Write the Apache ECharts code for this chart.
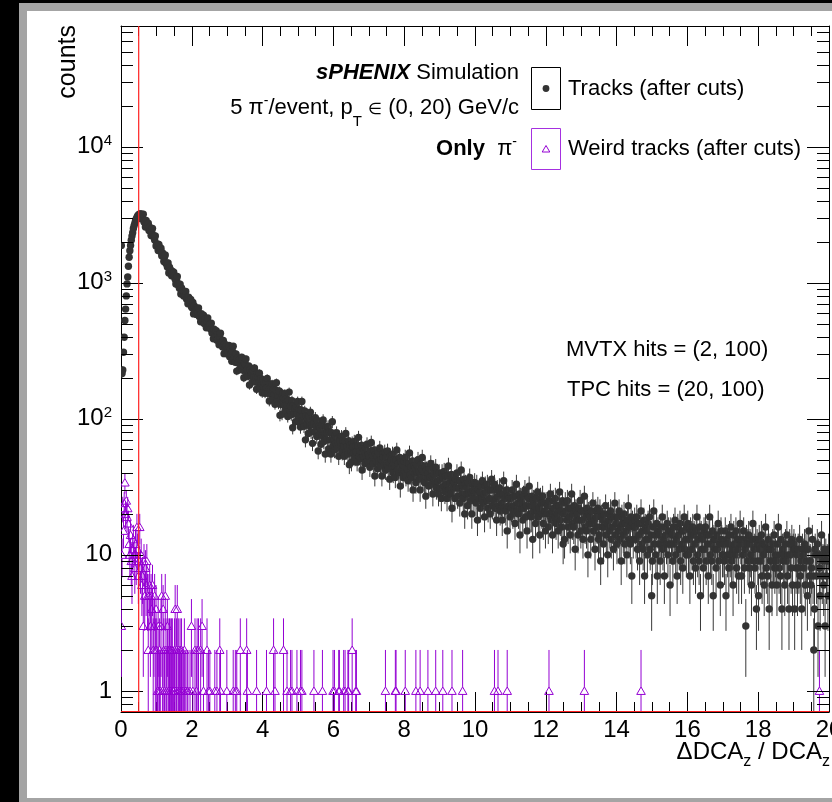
<!DOCTYPE html>
<html>
<head>
<meta charset="utf-8">
<title>DCA_z resolution, tracks vs weird tracks</title>
<script src="https://cdn.jsdelivr.net/npm/echarts@6/dist/echarts.min.js"></script>
<style>
  html, body { margin: 0; padding: 0; background: #fff; }
  #chart { width: 832px; height: 802px; }
</style>
</head>
<body>
<div id="chart"></div>
<script>
const FONT = '"Liberation Sans", Arial, Helvetica, sans-serif';

// histogram binning: bin i has center (i + 0.5) * binWidth
const binWidth = 0.02;
const xRange = [0, 20];
const yRange = [0.7, 77000];
const cutValue = 0.5;

// "Tracks (after cuts)" counts per bin
const tracks0to1 = [
  1880, 215, 228, 308, 397, 527, 640, 800, 980, 1100,
  1320, 1540, 1720, 1880, 2050, 2200, 2330, 2500, 2620, 2730,
  2850, 2940, 3020, 3090, 3140, 3180, 3200, 3197, 2948, 3182,
  2980, 3182, 2799, 2864, 2567, 2863, 2744, 2587, 2735, 2416,
  2554, 2418, 2225, 2412, 2508, 2184, 2212, 2064, 2205, 1864
];
const tracks1to3 = [
  1901, 1930, 1725, 1912, 1816, 1700, 1791, 1576, 1658, 1562, 1431, 1542, 1600, 1385, 1399, 1303, 1394, 1177, 1302, 1226, 1235, 1125, 1208, 1124, 1193,
  1119, 1061, 979, 1064, 1110, 965, 980, 912, 977, 825, 916, 865, 875, 799, 863, 807, 861, 760, 779, 700, 783, 751, 709, 753, 667,
  654, 717, 590, 675, 633, 646, 585, 646, 600, 652, 564, 583, 517, 593, 567, 533, 577, 501, 540, 510, 466, 519, 550, 469, 483,
  496, 457, 504, 427, 445, 387, 456, 434, 404, 443, 378, 414, 388, 350, 399, 426, 355, 368, 337, 377, 301, 354, 329, 338, 301
];
const tracks3to6 = [
  332, 308, 346, 286, 321, 299, 265, 312, 341, 274, 286, 260, 300, 224, 280, 257, 268, 230, 274, 246, 283, 228, 244, 200, 256,
  250, 275, 218, 230, 205, 244, 177, 228, 209, 218, 186, 226, 202, 236, 187, 202, 165, 216, 203, 183, 216, 170, 198, 182, 155,
  192, 173, 183, 154, 189, 168, 198, 154, 169, 135, 180, 169, 152, 180, 140, 165, 151, 128, 163, 184, 138, 148, 129, 160, 106,
  128, 141, 108, 153, 142, 125, 153, 115, 140, 127, 104, 137, 157, 114, 124, 107, 136, 86, 125, 111, 119, 95, 124, 108, 134,
  96, 117, 106, 87, 116, 134, 96, 105, 88, 114, 70, 105, 92, 100, 78, 105, 89, 112, 80, 91, 66, 99, 93, 80, 102,
  88, 74, 97, 58, 88, 77, 85, 65, 90, 75, 98, 68, 78, 55, 87, 79, 70, 88, 60, 80, 70, 55, 79, 95, 63
];
const tracks6to10 = [
  71, 59, 75, 66, 79, 61, 67, 53, 73, 69, 62, 74, 57, 69, 63, 53, 68, 78, 58, 63, 55, 69, 46, 64, 58,
  48, 66, 62, 56, 68, 52, 63, 57, 48, 63, 73, 53, 58, 51, 64, 42, 60, 53, 58, 47, 61, 53, 65, 49, 55,
  53, 44, 58, 67, 49, 54, 47, 59, 38, 55, 49, 53, 43, 56, 49, 61, 45, 50, 38, 55, 52, 46, 57, 42, 52,
  46, 58, 43, 48, 36, 53, 50, 44, 55, 40, 50, 45, 37, 50, 59, 42, 47, 40, 52, 32, 48, 42, 46, 37, 49,
  41, 52, 38, 47, 43, 35, 47, 56, 39, 44, 37, 49, 30, 45, 40, 43, 34, 46, 40, 50, 36, 41, 30, 46, 43,
  52, 37, 41, 34, 45, 27, 42, 37, 40, 32, 43, 37, 47, 33, 38, 28, 43, 39, 34, 44, 31, 40, 35, 28, 40,
  31, 36, 26, 40, 37, 32, 41, 29, 38, 33, 26, 38, 45, 30, 34, 28, 39, 22, 35, 31, 34, 26, 36, 31, 40,
  27, 35, 31, 24, 35, 42, 28, 32, 26, 36, 20, 33, 28, 31, 23, 34, 28, 37, 25, 29, 20, 33, 30, 26, 34
];
const tracks10to15 = [
  29, 24, 33, 18, 30, 26, 29, 22, 32, 26, 35, 24, 28, 19, 32, 29, 25, 33, 22, 30, 26, 20, 30, 36, 23,
  30, 25, 33, 22, 26, 18, 30, 27, 23, 31, 21, 28, 24, 18, 28, 35, 22, 26, 21, 30, 15, 27, 23, 26, 19,
  26, 22, 30, 20, 27, 23, 17, 27, 33, 21, 24, 20, 28, 14, 26, 22, 24, 18, 27, 22, 30, 19, 23, 15, 27,
  26, 32, 20, 23, 19, 27, 13, 25, 21, 23, 17, 26, 21, 29, 19, 22, 14, 26, 24, 20, 27, 17, 24, 21, 15,
  24, 20, 23, 16, 25, 20, 28, 18, 21, 14, 25, 22, 19, 26, 17, 23, 20, 15, 23, 29, 18, 21, 16, 25, 12,
  20, 13, 24, 21, 18, 25, 16, 22, 19, 14, 22, 28, 17, 20, 16, 23, 11, 21, 18, 20, 14, 22, 18, 25, 15,
  21, 18, 13, 21, 27, 16, 19, 15, 22, 10, 20, 17, 19, 13, 21, 17, 24, 15, 18, 11, 21, 19, 16, 22, 13,
  14, 21, 9, 19, 16, 18, 12, 20, 16, 23, 14, 17, 10, 20, 18, 15, 21, 13, 19, 16, 11, 19, 24, 14, 17,
  12, 19, 15, 21, 13, 16, 9, 19, 17, 14, 20, 12, 17, 15, 10, 18, 23, 13, 16, 12, 19, 7, 17, 13, 16,
  18, 16, 13, 19, 11, 17, 14, 9, 17, 21, 12, 15, 11, 18, 7, 16, 13, 15, 10, 17, 13, 19, 11, 14, 5
];
const tracks15to20 = [
  9, 16, 21, 12, 14, 10, 17, 7, 15, 12, 14, 9, 16, 12, 19, 11, 13, 7, 16, 14, 12, 17, 10, 15, 12,
  6, 15, 12, 14, 9, 16, 12, 18, 10, 13, 7, 16, 14, 11, 17, 9, 15, 12, 8, 15, 19, 11, 13, 10, 16,
  17, 10, 13, 7, 15, 14, 11, 16, 9, 14, 12, 8, 15, 19, 10, 13, 9, 16, 5, 14, 11, 13, 8, 15, 11,
  16, 9, 14, 12, 7, 14, 19, 10, 12, 9, 15, 5, 13, 11, 13, 8, 14, 11, 17, 9, 12, 6, 15, 13, 10,
  10, 12, 9, 15, 5, 13, 10, 12, 8, 14, 10, 16, 9, 11, 6, 14, 12, 10, 15, 8, 13, 11, 7, 13, 17,
  12, 7, 13, 10, 15, 8, 11, 3, 13, 12, 9, 14, 8, 12, 10, 6, 13, 17, 9, 11, 8, 13, 4, 12, 9,
  5, 13, 11, 9, 14, 7, 12, 10, 6, 12, 16, 8, 11, 7, 13, 4, 11, 9, 11, 6, 12, 9, 14, 8, 10,
  9, 6, 12, 16, 8, 10, 7, 13, 4, 11, 9, 10, 6, 12, 9, 14, 7, 10, 4, 12, 10, 8, 13, 6, 11,
  12, 4, 11, 8, 10, 6, 11, 8, 13, 7, 9, 4, 11, 10, 8, 12, 6, 11, 9, 5, 11, 15, 7, 9, 6,
  8, 13, 7, 2, 4, 11, 10, 7, 12, 3, 10, 8, 5, 10, 14, 7, 9, 6, 11, 3, 10, 7, 9, 5, 11
];

// "Weird tracks (after cuts)": every bin below 1, then only the filled bins above 1
const weirdBelow1 = [
  3, 10, 22, 15, 24, 34, 20, 25, 19, 22,
  17, 12, 10, 14, 9, 7, 11, 13, 10, 8,
  12, 9, 16, 11, 7, 9, 16, 8, 10, 6,
  7, 3, 9, 5, 8, 6, 9, 5, 2, 5,
  6, 3, 5, 4, 6, 2, 3, 5, 2, 4
];
const weirdAbove1X = [
  1.01, 1.03, 1.05, 1.07, 1.09, 1.11, 1.13, 1.15, 1.17, 1.19, 1.21, 1.23, 1.25, 1.27, 1.29, 1.31, 1.33, 1.35, 1.37,
  1.39, 1.41, 1.43, 1.45, 1.47, 1.49, 1.51, 1.53, 1.55, 1.57, 1.59, 1.61, 1.63, 1.65, 1.67, 1.69, 1.71, 1.73,
  1.77, 1.79, 1.83, 1.87, 1.89, 1.95, 1.99,
  2.03, 2.09, 2.13, 2.15, 2.19, 2.25, 2.29, 2.33, 2.43, 2.47, 2.51, 2.65, 2.71, 2.79, 2.81, 2.99,
  3.17, 3.23, 3.27, 3.37, 3.55, 3.57, 3.83,
  4.11, 4.31, 4.35, 4.59, 4.69, 4.79, 4.83, 4.97,
  5.07, 5.11, 5.45, 5.69, 5.99,
  6.03, 6.15, 6.17, 6.29, 6.33, 6.41, 6.43, 6.53, 6.63, 6.65,
  7.47, 7.75, 7.77,
  8.03, 8.33, 8.45, 8.67, 8.89, 9.09, 9.35, 9.65, 10.55, 10.65, 10.91, 12.09, 13.09, 14.69, 19.73
];
const weirdAbove1Counts = [
  2, 1, 3, 1, 2, 1, 3, 5, 1, 4, 2, 1, 5, 2, 1, 3, 2, 1, 2,
  2, 1, 2, 2, 1, 1, 2, 4, 1, 2, 4, 1, 2, 1, 2, 1, 2, 1,
  1, 2, 1, 1, 1, 1, 3,
  1, 2, 1, 2, 2, 2, 3, 1, 2, 1, 1, 1, 1, 2, 1, 1,
  1, 1, 1, 2, 2, 1, 1,
  1, 2, 1, 2, 1, 1, 1, 1,
  1, 1, 1, 1, 1,
  1, 1, 1, 1, 1, 1, 1, 2, 1, 1,
  1, 1, 1,
  1, 1, 1, 1, 1, 1, 1, 1, 1, 1, 1, 1, 1, 1, 1
];

// log-axis tick positions
const yMajorTicks = [1, 10, 100, 1000, 10000];
const yMinorTicks = [
  0.8, 0.9,
  2, 3, 4, 5, 6, 7, 8, 9,
  20, 30, 40, 50, 60, 70, 80, 90,
  200, 300, 400, 500, 600, 700, 800, 900,
  2000, 3000, 4000, 5000, 6000, 7000, 8000, 9000,
  20000, 30000, 40000, 50000, 60000, 70000
];

const TRACK_COLOR = '#333333';
const WEIRD_COLOR = '#9400d3';
const CUT_COLOR = '#ff2020';

const tracksCounts = [].concat(tracks0to1, tracks1to3, tracks3to6, tracks6to10, tracks10to15, tracks15to20);
const tracksData = tracksCounts.map((n, i) => [(i + 0.5) * binWidth, n]);
const weirdData = weirdBelow1.map((n, i) => [(i + 0.5) * binWidth, n])
  .concat(weirdAbove1X.map((x, i) => [x, weirdAbove1Counts[i]]));
const yTickData = yMajorTicks.map(v => [xRange[0], v, 22])
  .concat(yMinorTicks.map(v => [xRange[0], v, 12]));

// poisson error bar ends, lower end clipped to the axis
function errEnds(api, x, n) {
  const e = Math.sqrt(n);
  return [api.coord([x, n + e])[1], api.coord([x, Math.max(n - e, yRange[0])])[1]];
}

function renderTrack(params, api) {
  const x = api.value(0), n = api.value(1);
  const c = api.coord([x, n]);
  const [hi, lo] = errEnds(api, x, n);
  return {
    type: 'group',
    children: [
      { type: 'line', shape: { x1: c[0], y1: hi, x2: c[0], y2: lo }, style: { stroke: '#383838', lineWidth: 1 } },
      { type: 'circle', shape: { cx: c[0], cy: c[1], r: 3.7 }, style: { fill: TRACK_COLOR } }
    ]
  };
}

function renderWeird(params, api) {
  const x = api.value(0), n = api.value(1);
  const c = api.coord([x, n]);
  const [hi, lo] = errEnds(api, x, n);
  const children = [
    { type: 'line', shape: { x1: c[0], y1: hi, x2: c[0], y2: c[1] - 4 }, style: { stroke: WEIRD_COLOR, lineWidth: 1 } },
    { type: 'polygon', shape: { points: [[c[0], c[1] - 4], [c[0] + 4.3, c[1] + 3.5], [c[0] - 4.3, c[1] + 3.5]] },
      style: { fill: 'none', stroke: WEIRD_COLOR, lineWidth: 1 } }
  ];
  if (lo > c[1] + 3.5) {
    children.push({ type: 'line', shape: { x1: c[0], y1: c[1] + 3.5, x2: c[0], y2: lo }, style: { stroke: WEIRD_COLOR, lineWidth: 1 } });
  }
  return { type: 'group', children: children };
}

function renderYTicks(params, api) {
  const v = api.value(1), len = api.value(2);
  const l = api.coord([xRange[0], v]);
  const r = api.coord([xRange[1], v]);
  const y = Math.round(l[1]) + 0.5;
  return {
    type: 'group',
    children: [
      { type: 'line', shape: { x1: l[0], y1: y, x2: l[0] + len, y2: y }, style: { stroke: '#000', lineWidth: 1 } },
      { type: 'line', shape: { x1: r[0] - len, y1: y, x2: r[0], y2: y }, style: { stroke: '#000', lineWidth: 1 } }
    ]
  };
}

// red cut line at x = cutValue, plus the red line along the bottom of the frame
function renderCut(params, api) {
  const top = api.coord([api.value(0), yRange[1]]);
  const bot = api.coord([api.value(0), yRange[0]]);
  const left = api.coord([xRange[0], yRange[0]]);
  const right = api.coord([xRange[1], yRange[0]]);
  return {
    type: 'group',
    children: [
      { type: 'line', shape: { x1: top[0], y1: top[1], x2: bot[0], y2: bot[1] }, style: { stroke: CUT_COLOR, lineWidth: 1.2 } },
      { type: 'line', shape: { x1: left[0], y1: left[1] - 0.5, x2: right[0], y2: right[1] - 0.5 }, style: { stroke: CUT_COLOR, lineWidth: 1.2 } }
    ]
  };
}

function yLabel(v) {
  const e = Math.round(Math.log10(v));
  if (e === 0) return '1';
  if (e === 1) return '10';
  return '10{sup|' + e + '}';
}

const xAxisBase = {
  type: 'value', min: xRange[0], max: xRange[1], interval: 2,
  axisLine: { onZero: false, lineStyle: { color: '#000', width: 1 } },
  axisTick: { inside: true, length: 20, lineStyle: { color: '#000', width: 1 } },
  minorTick: { show: true, splitNumber: 4, length: 10, lineStyle: { color: '#000', width: 1 } },
  splitLine: { show: false },
  minorSplitLine: { show: false }
};

const yAxisBase = {
  type: 'log', logBase: 10, min: yRange[0], max: yRange[1],
  axisLine: { show: true, onZero: false, lineStyle: { color: '#000', width: 1 } },
  axisTick: { show: false },
  splitLine: { show: false }
};

const txt = (x, y, text, extra) => ({
  type: 'text', x: x, y: y, silent: true,
  style: Object.assign({
    text: text, fill: '#000', fontFamily: FONT, fontSize: 22,
    align: 'left', verticalAlign: 'middle', textAlign: 'left', textVerticalAlign: 'middle'
  }, extra || {})
});

const chart = echarts.init(document.getElementById('chart'), null, { renderer: 'canvas' });

chart.setOption({
  animation: false,
  backgroundColor: '#ffffff',
  // keep the frame where it is, the "20" label is allowed to run off the right edge
  grid: { left: 121, right: 3, top: 26, bottom: 90, containLabel: false, outerBoundsMode: 'none' },
  xAxis: [
    Object.assign({}, xAxisBase, {
      position: 'bottom',
      axisLabel: {
        fontSize: 24, fontFamily: FONT, color: '#000', margin: 6,
        alignMinLabel: 'center', alignMaxLabel: 'center', hideOverlap: false
      }
    }),
    Object.assign({}, xAxisBase, { position: 'top', axisLabel: { show: false } })
  ],
  yAxis: [
    Object.assign({}, yAxisBase, {
      position: 'left',
      axisLabel: {
        margin: 9, fontSize: 24, fontFamily: FONT, color: '#000',
        showMinLabel: false, showMaxLabel: false,
        formatter: yLabel,
        rich: { sup: { fontSize: 15, fontFamily: FONT, color: '#000', padding: [0, 0, 12, 0] } }
      }
    }),
    Object.assign({}, yAxisBase, { position: 'right', axisLabel: { show: false } })
  ],
  series: [
    { name: 'Tracks (after cuts)', type: 'custom', renderItem: renderTrack, data: tracksData, clip: true, z: 2, silent: true },
    { name: 'Weird tracks (after cuts)', type: 'custom', renderItem: renderWeird, data: weirdData, clip: true, z: 3, silent: true },
    { name: 'y ticks', type: 'custom', renderItem: renderYTicks, data: yTickData, z: 5, silent: true },
    { name: 'cut', type: 'custom', renderItem: renderCut, data: [[cutValue, yRange[0]]], z: 6, silent: true }
  ],
  graphic: [
    // window frame
    { type: 'rect', silent: true, shape: { x: 0, y: 0, width: 832, height: 3 }, style: { fill: '#000' } },
    { type: 'rect', silent: true, shape: { x: 0, y: 0, width: 19, height: 802 }, style: { fill: '#000' } },
    { type: 'rect', silent: true, shape: { x: 19, y: 3, width: 813, height: 8 }, style: { fill: '#a4a4a4' } },
    { type: 'rect', silent: true, shape: { x: 19, y: 3, width: 8, height: 799 }, style: { fill: '#a4a4a4' } },
    { type: 'rect', silent: true, shape: { x: 19, y: 798, width: 813, height: 4 }, style: { fill: '#a4a4a4' } },

    // axis titles
    {
      type: 'text', x: 68, y: 25, rotation: Math.PI / 2, silent: true,
      style: { text: 'counts', fill: '#000', fontFamily: FONT, fontSize: 25, align: 'right', verticalAlign: 'middle', textAlign: 'right', textVerticalAlign: 'middle' }
    },
    txt(830, 752, 'ΔDCA{sub|z} / DCA{sub|z}', {
      fontSize: 24, align: 'right', textAlign: 'right',
      rich: { sub: { fontSize: 16, fontFamily: FONT, fill: '#000', padding: [20, 0, 0, 0] } }
    }),

    // labels
    txt(519, 73, '{bi|sPHENIX} Simulation', {
      align: 'right', textAlign: 'right',
      rich: { bi: { fontSize: 22, fontFamily: FONT, fontWeight: 'bold', fontStyle: 'italic', fill: '#000' } }
    }),
    txt(519, 108, '5 π{sup|-}/event, p{sub|T} {el|∈} (0, 20) GeV/c', {
      align: 'right', textAlign: 'right',
      rich: {
        sup: { fontSize: 14, fontFamily: FONT, fill: '#000', padding: [0, 0, 14, 0] },
        sub: { fontSize: 15, fontFamily: FONT, fill: '#000', padding: [28, 0, 0, 0] },
        el: { fontSize: 16, fontFamily: FONT, fill: '#000', padding: [3, 0, 0, 0] }
      }
    }),
    txt(517, 149, '{b|Only}  π{sup|-}', {
      align: 'right', textAlign: 'right',
      rich: {
        b: { fontSize: 22, fontFamily: FONT, fontWeight: 'bold', fill: '#000' },
        sup: { fontSize: 14, fontFamily: FONT, fill: '#000', padding: [0, 0, 14, 0] }
      }
    }),
    txt(568, 89, 'Tracks (after cuts)'),
    txt(568, 149, 'Weird tracks (after cuts)'),
    txt(566, 350, 'MVTX hits = (2, 100)'),
    txt(567, 390, 'TPC hits = (20, 100)'),

    // legend boxes
    { type: 'rect', silent: true, shape: { x: 531.5, y: 67.5, width: 29, height: 42 }, style: { fill: 'none', stroke: '#000', lineWidth: 1 } },
    { type: 'circle', silent: true, shape: { cx: 546, cy: 88.5, r: 3.4 }, style: { fill: TRACK_COLOR } },
    { type: 'rect', silent: true, shape: { x: 531.5, y: 128.5, width: 29, height: 41 }, style: { fill: 'none', stroke: '#a530e0', lineWidth: 1 } },
    { type: 'polygon', silent: true, shape: { points: [[546, 145.5], [549.8, 152], [542.2, 152]] }, style: { fill: 'none', stroke: WEIRD_COLOR, lineWidth: 1 } }
  ]
});
</script>
</body>
</html>
